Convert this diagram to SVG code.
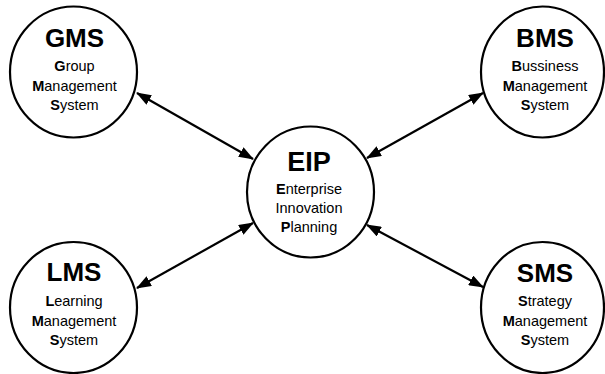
<svg xmlns="http://www.w3.org/2000/svg" width="605" height="374" viewBox="0 0 605 374">
  <style>
    .node { fill: #ffffff; stroke: #000000; stroke-width: 2.2; }
    .title { font-family: "Liberation Sans", Arial, sans-serif; font-size: 26px; font-weight: bold; text-anchor: middle; fill: #000000; }
    .sub { font-family: "Liberation Sans", Arial, sans-serif; font-size: 14.5px; text-anchor: middle; fill: #000000; }
    .sub .ini { font-weight: bold; }
    .link { stroke: #000000; stroke-width: 2.2; fill: none; marker-start: url(#head); marker-end: url(#head); }
  </style>
  <defs>
    <marker id="head" viewBox="0 0 15 11" refX="14" refY="5.5" markerWidth="15" markerHeight="11" markerUnits="userSpaceOnUse" orient="auto-start-reverse">
      <path d="M0,0 L15,5.5 L0,11 z" fill="#000000"/>
    </marker>
  </defs>
  <rect width="605" height="374" fill="#ffffff"/>

  <!-- two-headed connectors between the hub and each system -->
  <g id="connectors">
    <line class="link" x1="137" y1="93" x2="253" y2="159"/>
    <line class="link" x1="483" y1="93" x2="367" y2="158"/>
    <line class="link" x1="137" y1="288" x2="253" y2="223"/>
    <line class="link" x1="483" y1="287" x2="367" y2="225"/>
  </g>

  <g id="gms">
    <ellipse class="node" cx="73.5" cy="72" rx="63.5" ry="65.5"/>
    <text class="title" x="74.5" y="47">GMS</text>
    <text class="sub" x="74.5" y="71"><tspan class="ini">G</tspan>roup</text>
    <text class="sub" x="74.5" y="90.5"><tspan class="ini">M</tspan>anagement</text>
    <text class="sub" x="74.5" y="110"><tspan class="ini">S</tspan>ystem</text>
  </g>

  <g id="bms">
    <ellipse class="node" cx="542.5" cy="72" rx="61.5" ry="65.5"/>
    <text class="title" x="545" y="47">BMS</text>
    <text class="sub" x="545" y="71"><tspan class="ini">B</tspan>ussiness</text>
    <text class="sub" x="545" y="90.5"><tspan class="ini">M</tspan>anagement</text>
    <text class="sub" x="545" y="110"><tspan class="ini">S</tspan>ystem</text>
  </g>

  <g id="eip">
    <ellipse class="node" cx="310.5" cy="192" rx="63.5" ry="65.5"/>
    <text class="title" x="309" y="170.5" style="font-size:27px">EIP</text>
    <text class="sub" x="309" y="193.5"><tspan class="ini">E</tspan>nterprise</text>
    <text class="sub" x="309" y="212.5">Innovation</text>
    <text class="sub" x="309" y="232"><tspan class="ini">P</tspan>lanning</text>
  </g>

  <g id="lms">
    <ellipse class="node" cx="73.5" cy="307.5" rx="63.5" ry="65.5"/>
    <text class="title" x="74" y="280.5">LMS</text>
    <text class="sub" x="74" y="306"><tspan class="ini">L</tspan>earning</text>
    <text class="sub" x="74" y="325.5"><tspan class="ini">M</tspan>anagement</text>
    <text class="sub" x="74" y="345"><tspan class="ini">S</tspan>ystem</text>
  </g>

  <g id="sms">
    <ellipse class="node" cx="542.5" cy="307.5" rx="61.5" ry="65.5"/>
    <text class="title" x="545" y="282">SMS</text>
    <text class="sub" x="545" y="306"><tspan class="ini">S</tspan>trategy</text>
    <text class="sub" x="545" y="325.5"><tspan class="ini">M</tspan>anagement</text>
    <text class="sub" x="545" y="345"><tspan class="ini">S</tspan>ystem</text>
  </g>
</svg>
